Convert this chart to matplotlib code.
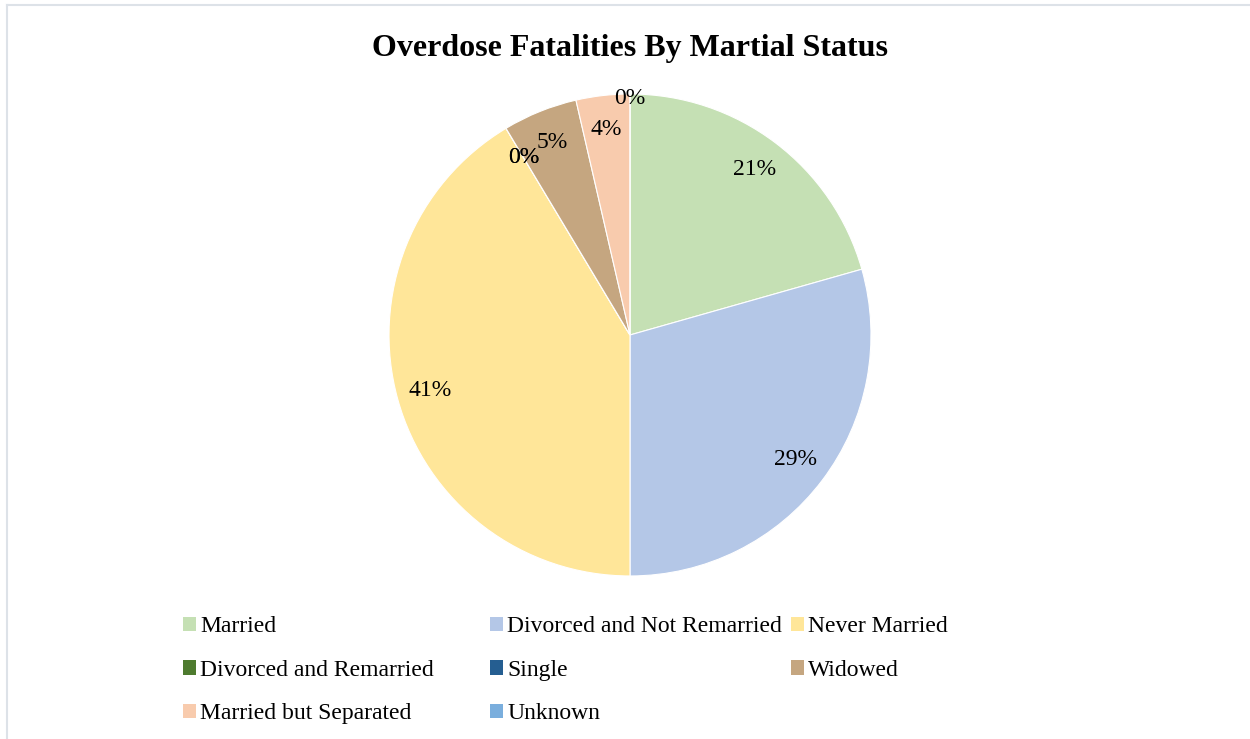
import matplotlib.pyplot as plt
from matplotlib.patches import Patch
from matplotlib.lines import Line2D

plt.rcParams['font.family'] = ['Liberation Serif', 'DejaVu Serif']

statuses = ["Married", "Divorced and Not Remarried", "Never Married",
            "Divorced and Remarried", "Single", "Widowed",
            "Married but Separated", "Unknown"]
shares = [20.6, 29.4, 41.4, 0, 0, 5.0, 3.6, 0]
colors = ["#C5E0B4", "#B4C7E7", "#FFE699", "#4E7B2F",
          "#255E91", "#C5A680", "#F8CBAD", "#7AAEDD"]

fig = plt.figure(figsize=(12.5, 7.39), dpi=100)
ax = fig.add_axes([0.3112, 0.2206, 0.3856, 0.6522])

wedges, texts, autotexts = ax.pie(shares, colors=colors, startangle=90, counterclock=False,
                                  autopct='%1.0f%%', pctdistance=0.86,
                                  wedgeprops={"edgecolor": "white", "linewidth": 0.8},
                                  textprops={"fontsize": 17})
ax.set_xlim(-1, 1)
ax.set_ylim(-1, 1)

# last label sits out at the rim in the original
x, y = autotexts[-1].get_position()
autotexts[-1].set_position((x / 0.86 * 0.98, y / 0.86 * 0.98))

fig.text(0.504, 0.935, "Overdose Fatalities By Martial Status", ha="center", va="center",
         fontsize=23, weight="bold")

# legend in three fixed-width columns
columns = [[0, 3, 6], [1, 4, 7], [2, 5]]
col_x = [0.1464, 0.392, 0.633]
for cx, idx in zip(col_x, columns):
    handles = [Patch(facecolor=colors[i], edgecolor="none") for i in idx]
    fig.legend(handles, [statuses[i] for i in idx], loc="upper left",
               bbox_to_anchor=(cx, 0.166), bbox_transform=fig.transFigure,
               frameon=False, fontsize=17, handlelength=0.55, handleheight=0.55,
               handletextpad=0.17, labelspacing=0.95, borderaxespad=0, borderpad=0)

# faint chart-area border (top and left only visible)
fig.add_artist(Line2D([0.0052, 1.0], [0.993, 0.993], color="#DDE2E8", lw=1.5))
fig.add_artist(Line2D([0.0052, 0.0052], [0.0, 0.993], color="#DDE2E8", lw=1.5))

plt.savefig("out.png", dpi=100)
